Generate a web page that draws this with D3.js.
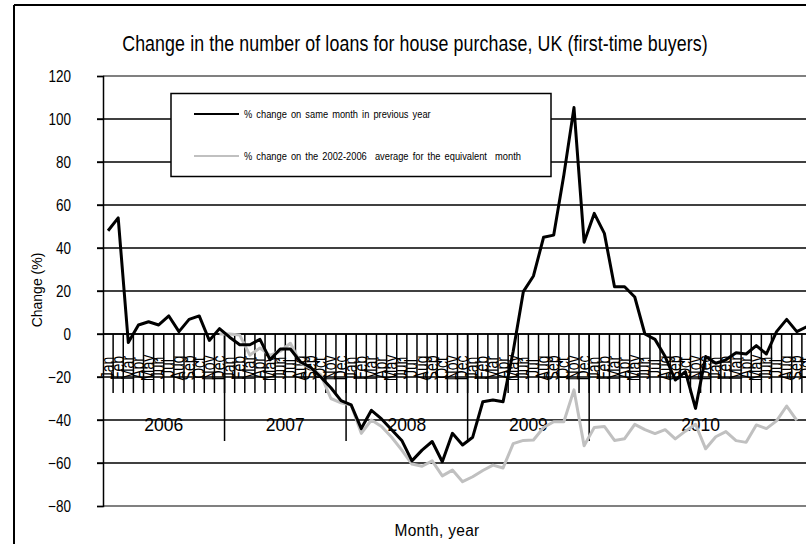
<!DOCTYPE html>
<html>
<head>
<meta charset="utf-8">
<script src="https://cdn.jsdelivr.net/npm/d3@7"></script>
<style>
  html, body { margin: 0; padding: 0; background: #fff; }
  svg { display: block; }
  text { font-family: "Liberation Sans", Arial, sans-serif; fill: #000; }
</style>
</head>
<body>
<svg id="chart" width="806" height="544"></svg>
<script>
// ---- data ----
const monthNames = ["Jan","Feb","Mar","Apr","May","Jun","Jul","Aug","Sep","Oct","Nov","Dec"];
const yearLabels = ["2006","2007","2008","2009","2010"];
const yearGroupSizes = [12, 12, 12, 12, 22];
const yTicks = [-80, -60, -40, -20, 0, 20, 40, 60, 80, 100, 120];

const seriesNames = [
  "% change on same month in previous year",
  "% change on the 2002-2006  average for the equivalent  month"
];
const sameMonthPrevYear = [
  48, 54, -4, 4.2, 5.7, 4.2, 8.4, 1.1, 6.8, 8.4, -3, 2.5,
  -1.5, -5, -5, -2.5, -12, -7, -7, -13, -15.5, -20, -25, -31,
  -33, -44, -35.5, -39.5, -44.5, -49.5, -59, -54, -50, -59.4, -46.2, -51.6,
  -48, -31.5, -30.7, -31.5, -8, 19.7, 27, 45, 46, 74, 105.3, 42.7,
  56.1, 46.8, 22, 22, 17.2, 0, -2.5, -10.5, -21.4, -17.5, -34.6, -10.5,
  -13.6, -12, -8.7, -9.3, -5.4, -9.3, 1.1, 6.8, 1.1, 3.4
];
const vsAverage = [
  null, null, null, null, null, null, null, null, null, null, null, 0,
  0, -0.5, -9.8, -6.5, -10, -8, -4.3, -13.5, -16, -19, -30, -32,
  -33, -46.2, -40, -43, -48, -54, -60.5, -61.5, -59, -66, -63.3, -68.7,
  -66.4, -63.5, -61, -62.3, -51, -49.5, -49.3, -43.5, -40.8, -40.8, -26, -52,
  -43.5, -43, -49.5, -48.7, -42, -44.5, -46.3, -44.5, -48.8, -45.2, -42, -53.4,
  -47.8, -45.4, -49.6, -50.4, -42.3, -44, -40.4, -33.5, -40.2, null
];

(function () {
const categories = [];
yearGroupSizes.forEach((n, gi) => {
  for (let k = 0; k < n; k++) categories.push({ idx: categories.length, month: monthNames[(categories.length) % 12], year: yearLabels[gi] });
});

const svg = d3.select("#chart");
const pLeft = 103, pRight = 812, pTop = 76, pBottom = 506;
const x = d3.scaleBand().domain(categories.map(c => c.idx)).range([pLeft, pRight]).paddingInner(0).paddingOuter(0);
const y = d3.scaleLinear().domain([-80, 120]).range([pBottom, pTop]);
const SY = 1.22; // glyph stretch seen in the reference

// outer chart border
svg.append("line").attr("x1", 14).attr("x2", 806).attr("y1", 5).attr("y2", 5).attr("stroke", "#000").attr("stroke-width", 2);
svg.append("line").attr("x1", 14).attr("x2", 14).attr("y1", 5).attr("y2", 544).attr("stroke", "#000").attr("stroke-width", 2);

// title
svg.append("text").attr("transform", `translate(415,51) scale(1,${SY})`).attr("text-anchor", "middle")
  .attr("font-size", 17.8).attr("letter-spacing", 0.1)
  .text("Change in the number of loans for house purchase, UK (first-time buyers)");

// gridlines
svg.append("g").selectAll("line").data(yTicks).join("line")
  .attr("x1", d => (d === 120 || d === -80) ? pLeft : pLeft - 6)
  .attr("x2", pRight)
  .attr("y1", d => y(d)).attr("y2", d => y(d))
  .attr("stroke", d => (d === 120 || d === -80) ? "#808080" : "#000")
  .attr("stroke-width", d => (d === 120 || d === -80) ? 2 : 1.3);

// y axis
const yAxis = d3.axisLeft(y).tickValues(yTicks).tickSize(6).tickPadding(26).tickFormat(d3.format("d"));
const ya = svg.append("g").attr("transform", `translate(${pLeft},0)`).call(yAxis);
ya.select(".domain").attr("stroke", "#000").attr("stroke-width", 1.5);
ya.selectAll(".tick line").attr("stroke", "#000").attr("stroke-width", 1.3);
ya.selectAll(".tick text").attr("font-size", 13.5).attr("font-family", "Liberation Sans, Arial, sans-serif")
  .attr("fill", "#000").attr("transform", `scale(1,${SY})`);

// y title
svg.append("text").attr("transform", "translate(42,290) rotate(-90) scale(1,1.1)").attr("text-anchor", "middle")
  .attr("font-size", 14).text("Change (%)");

// x title
svg.append("text").attr("transform", `translate(437,536) scale(1,1.1)`).attr("text-anchor", "middle")
  .attr("font-size", 15.5).attr("letter-spacing", 0.3).text("Month, year");

// category axis at y = 0
const y0 = y(0);
const bw = x.bandwidth();
svg.append("line").attr("x1", pLeft).attr("x2", pRight).attr("y1", y0).attr("y2", y0).attr("stroke", "#000").attr("stroke-width", 1.5);
svg.append("g").selectAll("line").data(categories.slice(1)).join("line")
  .attr("x1", d => x(d.idx)).attr("x2", d => x(d.idx))
  .attr("y1", y0).attr("y2", y0 + 59)
  .attr("stroke", "#000").attr("stroke-width", 1.5);
const yearStarts = [];
let acc = 0;
yearGroupSizes.forEach((n, i) => { yearStarts.push({ start: acc, n, label: yearLabels[i] }); acc += n; });
svg.append("g").selectAll("line").data(yearStarts.slice(1)).join("line")
  .attr("x1", d => x(d.start)).attr("x2", d => x(d.start))
  .attr("y1", y0).attr("y2", y0 + 107)
  .attr("stroke", "#000").attr("stroke-width", 1.5);
// month labels (rotated; tall glyphs overlap like the reference)
svg.append("g").selectAll("text").data(categories).join("text")
  .attr("transform", d => `translate(${x(d.idx) + bw / 2 + 5.5},${y0 + 34}) rotate(-90) scale(1,1.3)`)
  .attr("text-anchor", "middle").attr("font-size", 14).text(d => d.month);
// year labels
svg.append("g").selectAll("text").data(yearStarts).join("text")
  .attr("transform", d => `translate(${x(d.start) + d.n * bw / 2},${y0 + 97}) scale(1,1.08)`)
  .attr("text-anchor", "middle").attr("font-size", 17.5).text(d => d.label);

// lines
const line = d3.line().defined(d => d.v !== null).x(d => x(d.i) + bw / 2).y(d => y(d.v));
svg.append("path").datum(vsAverage.map((v, i) => ({ i, v })))
  .attr("d", line).attr("fill", "none").attr("stroke", "#c0c0c0").attr("stroke-width", 3).attr("stroke-linejoin", "round");
svg.append("path").datum(sameMonthPrevYear.map((v, i) => ({ i, v })))
  .attr("d", line).attr("fill", "none").attr("stroke", "#000").attr("stroke-width", 3).attr("stroke-linejoin", "round");

// legend
const lg = svg.append("g");
lg.append("rect").attr("x", 171).attr("y", 93.5).attr("width", 380).attr("height", 83)
  .attr("fill", "#fff").attr("stroke", "#000").attr("stroke-width", 1.5);
const legendItems = [
  { name: seriesNames[0], color: "#000", yy: 114 },
  { name: seriesNames[1], color: "#c0c0c0", yy: 156 }
];
legendItems.forEach(it => {
  lg.append("line").attr("x1", 194).attr("x2", 239).attr("y1", it.yy).attr("y2", it.yy)
    .attr("stroke", it.color).attr("stroke-width", 2);
  lg.append("text").attr("transform", `translate(244,${it.yy + 3.5}) scale(1,1.15)`).attr("font-size", 9.3)
    .attr("word-spacing", 1.5).style("white-space", "pre").text(it.name);
});
})();
</script>
</body>
</html>
